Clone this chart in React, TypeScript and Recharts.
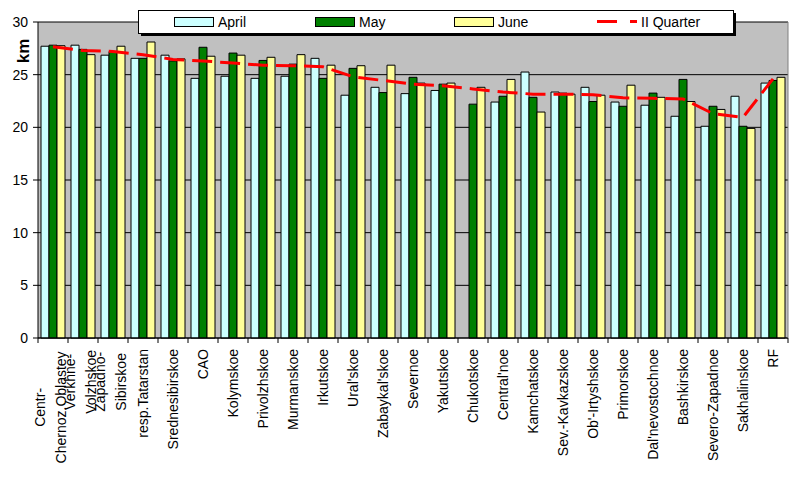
import React from 'react';
import { ComposedChart, Bar, Line, XAxis, YAxis, CartesianGrid, Legend } from 'recharts';

const categories = [
  'Centr-\nChernoz.Oblastey', 'Verkhne-\nVolzhskoe', 'Zapadno-\nSibirskoe', 'resp.Tatarstan',
  'Srednesibirskoe', 'CAO', 'Kolymskoe', 'Privolzhskoe', 'Murmanskoe', 'Irkutskoe',
  "Ural'skoe", "Zabaykal'skoe", 'Severnoe', 'Yakutskoe', 'Chukotskoe', "Central'noe",
  'Kamchatskoe', 'Sev.-Kavkazskoe', "Ob'-Irtyshskoe", 'Primorskoe', "Dal'nevostochnoe",
  'Bashkirskoe', 'Severo-Zapadnoe', 'Sakhalinskoe', 'RF',
];
const april = [27.7, 27.8, 26.85, 26.55, 26.85, 24.65, 24.85, 24.65, 24.85, 26.55, 23.05, 23.8, 23.2, 23.5, null, 22.4, 25.25, 23.35, 23.8, 22.4, 22.1, 21.05, 20.1, 22.95, 24.2];
const may = [27.8, 27.4, 27.2, 26.55, 26.3, 27.6, 27.05, 26.35, 26.0, 24.65, 25.6, 23.3, 24.75, 24.1, 22.2, 22.95, 22.85, 23.25, 22.45, 22.0, 23.25, 24.55, 22.0, 20.1, 24.45];
const june = [27.75, 26.9, 27.7, 28.1, 26.5, 26.75, 26.85, 26.65, 26.9, 25.9, 25.85, 25.9, 24.2, 24.2, 23.8, 24.55, 21.45, 23.15, 23.05, 24.0, 22.85, 22.45, 21.7, 19.9, 24.75];
const quarter = [27.65, 27.3, 27.2, 26.9, 26.45, 26.3, 26.1, 25.9, 25.85, 25.75, 24.8, 24.45, 24.1, 23.95, 23.65, 23.35, 23.15, 23.15, 23.1, 22.8, 22.75, 22.7, 21.3, 20.95, 24.6];
const seriesNames = ['April', 'May', 'June', 'II Quarter'];
const yTicks = [0, 5, 10, 15, 20, 25, 30];
const yTitle = 'km';

const data = categories.map((name, i) => ({
  name,
  april: april[i],
  may: may[i],
  june: june[i],
  quarter: quarter[i],
}));

const FONT = '"Liberation Sans", Arial, sans-serif';
const COLORS = { april: '#CCFFFF', may: '#008000', june: '#FFFF99', quarter: '#FF0000' };

function XTick(props: any) {
  const { x, y, payload, index } = props;
  const half = typeof payload?.offset === 'number' && payload.offset > 0 ? payload.offset : 15;
  const lines = String(payload.value).split('\n');
  const top = y + 11;
  const items: any[] = [];
  items.push(<line key="tl" x1={x - half} y1={y} x2={x - half} y2={y + 5} stroke="#000" />);
  if (index === categories.length - 1) {
    items.push(<line key="tr" x1={x + half} y1={y} x2={x + half} y2={y + 5} stroke="#000" />);
  }
  if (lines.length === 1) {
    items.push(
      <text key="t" x={x} y={top} dy="0.35em" textAnchor="end" transform={`rotate(-90 ${x} ${top})`}
        fontSize={14} fontFamily={FONT} fill="#000">{lines[0]}</text>
    );
  } else {
    const maxLen = Math.max(...lines.map((l) => l.length));
    const cy = top + (maxLen * 7.3) / 2;
    const offs = [-13, 8];
    lines.forEach((l, k) => {
      const lx = x + offs[k];
      items.push(
        <text key={'t' + k} x={lx} y={cy} dy="0.35em" textAnchor="middle" transform={`rotate(-90 ${lx} ${cy})`}
          fontSize={14} fontFamily={FONT} fill="#000">{l}</text>
      );
    });
  }
  return <g>{items}</g>;
}

function YTitle() {
  return (
    <text x={23} y={51} dy="0.35em" textAnchor="middle" transform="rotate(-90 23 51)"
      fontSize={17} fontWeight="bold" fontFamily={FONT} fill="#000">{yTitle}</text>
  );
}

function LegendBox() {
  const sw = [
    { x: 174, fill: COLORS.april, tx: 218 },
    { x: 315, fill: COLORS.may, tx: 359 },
    { x: 454, fill: COLORS.june, tx: 498 },
  ];
  return (
    <svg width={793} height={40} style={{ position: 'absolute', left: 0, top: 0, overflow: 'visible' }}>
      <rect x={141} y={13} width={595} height={23} fill="#000" />
      <rect x={138.5} y={10.5} width={595} height={23} fill="#fff" stroke="#000" />
      {sw.map((s, i) => (
        <g key={i}>
          <rect x={s.x + 0.5} y={17.5} width={39} height={9} fill={s.fill} stroke="#000" />
          <text x={s.tx} y={27} fontSize={14} fontFamily={FONT} fill="#000">{seriesNames[i]}</text>
        </g>
      ))}
      <line x1={597} y1={21.5} x2={637} y2={21.5} stroke={COLORS.quarter} strokeWidth={3} strokeDasharray="20 13" />
      <text x={641} y={27} fontSize={14} fontFamily={FONT} fill="#000">{seriesNames[3]}</text>
    </svg>
  );
}

export default function App() {
  return (
    <div style={{ position: 'absolute', left: 0, top: 0, width: 793, height: 477, background: '#fff', fontFamily: FONT }}>
      <ComposedChart
        width={793}
        height={477}
        data={data}
        margin={{ top: 22, right: 0, bottom: 0, left: 0 }}
        barCategoryGap={3}
        barGap={0}
      >
        <CartesianGrid vertical={false} stroke="#000" fill="#C0C0C0" fillOpacity={1} />
        <XAxis
          dataKey="name"
          height={139}
          interval={0}
          tickLine={false}
          tickSize={0}
          tickMargin={0}
          axisLine={{ stroke: '#000' }}
          tick={<XTick />}
        />
        <XAxis xAxisId="top" dataKey="name" orientation="top" height={0} tick={false} tickLine={false}
          axisLine={{ stroke: '#808080' }} />
        <YAxis
          width={38}
          domain={[0, 30]}
          ticks={yTicks}
          interval={0}
          tickSize={5}
          tickMargin={5}
          axisLine={{ stroke: '#000' }}
          tickLine={{ stroke: '#000' }}
          tick={{ fill: '#000', fontSize: 14, fontFamily: FONT }}
          label={<YTitle />}
        />
        <YAxis yAxisId="right" orientation="right" width={5} domain={[0, 30]} tick={false} tickLine={false}
          axisLine={{ stroke: '#808080' }} />
        <Legend verticalAlign="middle" align="center" layout="horizontal"
          wrapperStyle={{ left: 0, top: 0, width: 793, height: 40 }}
          content={() => <LegendBox />} />
        <Bar dataKey="april" name={seriesNames[0]} fill={COLORS.april} stroke="#000" strokeWidth={1} isAnimationActive={false} />
        <Bar dataKey="may" name={seriesNames[1]} fill={COLORS.may} stroke="#000" strokeWidth={1} isAnimationActive={false} />
        <Bar dataKey="june" name={seriesNames[2]} fill={COLORS.june} stroke="#000" strokeWidth={1} isAnimationActive={false} />
        <Line dataKey="quarter" name={seriesNames[3]} type="linear" stroke={COLORS.quarter} strokeWidth={3}
          strokeDasharray="20 8" dot={false} activeDot={false} isAnimationActive={false} />
      </ComposedChart>
    </div>
  );
}
